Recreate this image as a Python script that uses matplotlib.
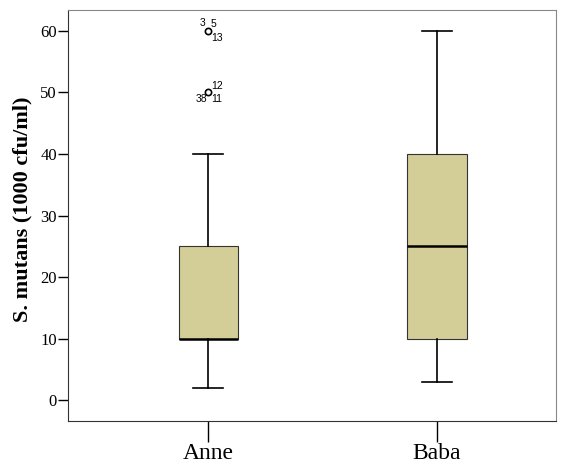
import matplotlib
matplotlib.use("Agg")
import matplotlib.pyplot as plt

groups = ["Anne", "Baba"]
whislo = [2, 3]
q1 = [10, 10]
med = [10, 25]
q3 = [25, 40]
whishi = [40, 60]
fliers = [[60, 50], []]
flier_labels = {60: ("3", "5", "13"), 50: ("12", "38", "11")}

stats = []
for i, g in enumerate(groups):
    stats.append(dict(label=g, whislo=whislo[i], q1=q1[i], med=med[i],
                      q3=q3[i], whishi=whishi[i], fliers=fliers[i]))

fig = plt.figure(figsize=(5.66, 4.63), dpi=100)
ax = fig.add_axes([68 / 566, 42 / 463, 488 / 566, 411 / 463])

ax.bxp(stats, positions=[1, 2], widths=0.258, patch_artist=True,
       boxprops=dict(facecolor="#D3CE97", edgecolor="#333333", linewidth=0.8),
       medianprops=dict(color="black", linewidth=1.8),
       whiskerprops=dict(color="black", linewidth=1.2),
       capprops=dict(color="black", linewidth=1.2),
       capwidths=0.131,
       flierprops=dict(marker="o", markersize=4.5, markerfacecolor="white",
                       markeredgecolor="black", markeredgewidth=1.2))

# outlier case labels
lab = dict(fontsize=7.5, family="Liberation Sans")
for y, (a, b, c) in flier_labels.items():
    if y == 60:
        ax.text(0.99, y + 0.5, a, ha="right", va="bottom", **lab)
        ax.text(1.012, y + 0.3, b, ha="left", va="bottom", **lab)
        ax.text(1.012, y - 0.3, c, ha="left", va="top", **lab)
    else:
        ax.text(1.012, y + 0.3, a, ha="left", va="bottom", **lab)
        ax.text(0.995, y - 0.3, b, ha="right", va="top", **lab)
        ax.text(1.012, y - 0.3, c, ha="left", va="top", **lab)

ax.set_xlim(0.388, 2.52)
ax.set_ylim(-3.4, 63.4)
ax.set_yticks([0, 10, 20, 30, 40, 50, 60])
ax.set_xticks([1, 2])
ax.set_xticklabels(groups, family="Liberation Serif", fontsize=17)
for t in ax.get_yticklabels():
    t.set_family("Liberation Serif")
    t.set_fontsize(12)
ax.set_ylabel("S. mutans (1000 cfu/ml)", family="Liberation Serif",
              fontsize=16, fontweight="bold")
ax.yaxis.set_label_coords(-0.072, 0.515)

ax.tick_params(axis="y", length=7, width=1, direction="out", pad=1)
ax.tick_params(axis="x", length=15, width=1, direction="out", pad=1)
for s in ["left", "bottom"]:
    ax.spines[s].set_color("#333333")
for s in ["top", "right"]:
    ax.spines[s].set_color("#888888")

fig.savefig("out.png", dpi=100)
